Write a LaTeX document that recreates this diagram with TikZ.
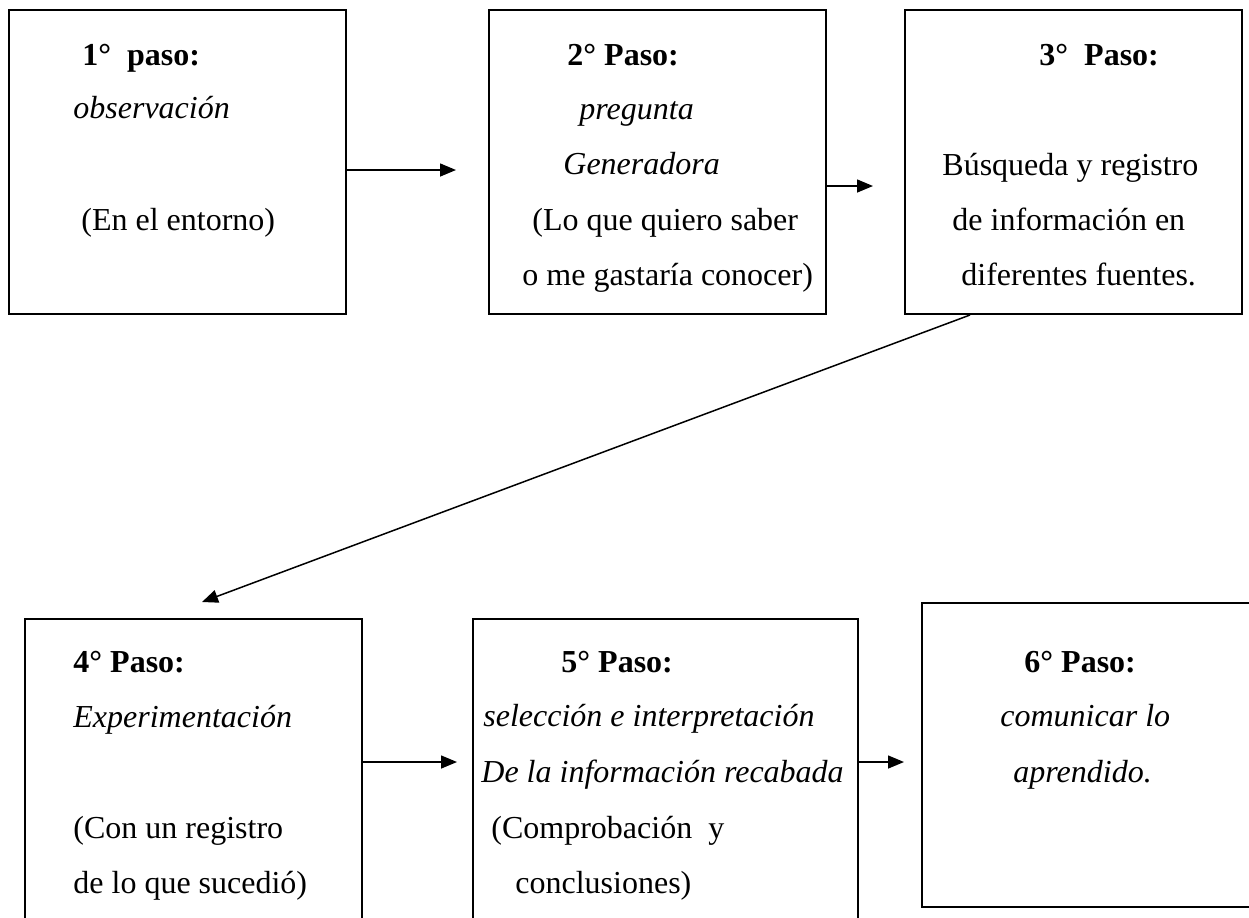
\documentclass[tikz,border=0pt]{standalone}
\usepackage{fontspec}
\setmainfont{Liberation Serif}
\usetikzlibrary{arrows.meta}
\tikzset{
  stepbox/.style={draw,line width=1pt,anchor=north west,inner sep=0pt},
  txt/.style={anchor=base west,inner sep=0pt,font=\fontsize{16}{20}\selectfont},
  arr/.style={-{Triangle[length=8pt,width=6.5pt]},line width=0.75pt}
}
\begin{document}
\begin{tikzpicture}[x=0.5pt,y=-0.5pt]
		\useasboundingbox (0,0) rectangle (1249,917);
		% cajas
		\node[stepbox,minimum width=168.5pt,minimum height=152pt] (b1) at (8,9) {};
		\node[stepbox,minimum width=168.5pt,minimum height=152pt] (b2) at (488,9) {};
		\node[stepbox,minimum width=168.5pt,minimum height=152pt] (b3) at (904,9) {};
		\node[stepbox,minimum width=168.5pt,minimum height=160pt] (b4) at (24,618) {};
		\node[stepbox,minimum width=192.5pt,minimum height=160pt] (b5) at (472,618) {};
		\node[stepbox,minimum width=169.5pt,minimum height=152pt] (b6) at (921,602) {};
		% textos
		\node[txt] (h1) at (82,65) {\textbf{1°\ \ paso:}};
		\node[txt] (l1a) at (73,118) {\textit{observación}};
		\node[txt] (l1b) at (81,230) {(En el entorno)};
		\node[txt] (h2) at (567,65) {\textbf{2° Paso:}};
		\node[txt] (l2a) at (579,119) {\textit{pregunta}};
		\node[txt] (l2b) at (563,174) {\textit{Generadora}};
		\node[txt] (l2c) at (532,230) {(Lo que quiero saber};
		\node[txt] (l2d) at (522,285) {o me gastaría conocer)};
		\node[txt] (h3) at (1039,65) {\textbf{3°\ \ Paso:}};
		\node[txt] (l3a) at (942,175) {Búsqueda y registro};
		\node[txt] (l3b) at (952,230) {de información en};
		\node[txt] (l3c) at (961,285) {diferentes fuentes.};
		\node[txt] (h4) at (73,672) {\textbf{4° Paso:}};
		\node[txt] (l4a) at (73,727) {\textit{Experimentación}};
		\node[txt] (l4b) at (73,838) {(Con un registro};
		\node[txt] (l4c) at (73,893) {de lo que sucedió)};
		\node[txt] (h5) at (561,672) {\textbf{5° Paso:}};
		\node[txt] (l5a) at (483,726) {\textit{selección e interpretación}};
		\node[txt] (l5b) at (481,782) {\textit{De la información recabada}};
		\node[txt] (l5c) at (491,838) {(Comprobación\ \ y};
		\node[txt] (l5d) at (515,893) {conclusiones)};
		\node[txt] (h6) at (1024,672) {\textbf{6° Paso:}};
		\node[txt] (l6a) at (1000,726) {\textit{comunicar lo}};
		\node[txt] (l6b) at (1013,782) {\textit{aprendido.}};
		% flechas
		\coordinate (t12) at (456,170);
		\coordinate (t23) at (873,186);
		\coordinate (t34) at (202,602);
		\coordinate (t45) at (457,762);
		\coordinate (t56) at (904,762);
		\draw[arr] (t12 -| b1.east) -- (t12);
		\draw[arr] (t23 -| b2.east) -- (t23);
		\draw[arr] ([xshift=33pt]b3.south west) -- (t34);
		\draw[arr] (t45 -| b4.east) -- (t45);
		\draw[arr] (t56 -| b5.east) -- (t56);
\end{tikzpicture}
\end{document}
